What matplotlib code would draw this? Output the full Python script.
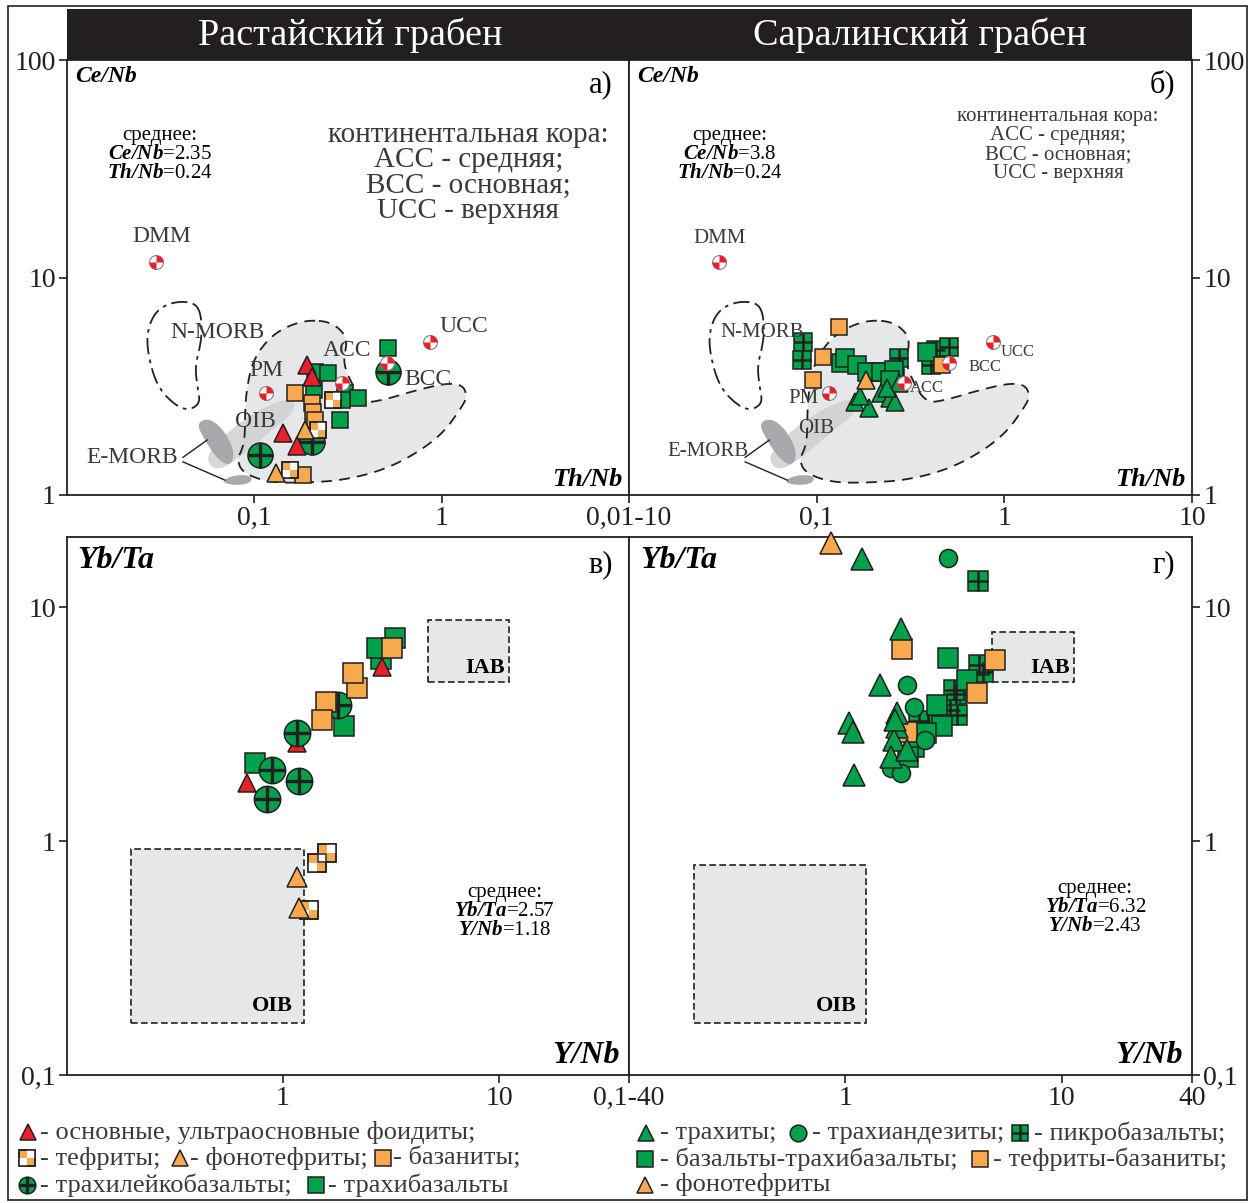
import numpy as np
import matplotlib.pyplot as plt
from matplotlib.path import Path
from matplotlib.patches import Polygon, Rectangle
from matplotlib.ticker import NullLocator

plt.rcParams['font.family'] = ['Liberation Serif', 'DejaVu Serif']
plt.rcParams['mathtext.fontset'] = 'custom'
plt.rcParams['mathtext.rm'] = 'Liberation Serif'
plt.rcParams['mathtext.it'] = 'Liberation Serif:italic'
plt.rcParams['mathtext.bf'] = 'Liberation Serif:bold'
plt.rcParams['mathtext.bfit'] = 'Liberation Serif:bold:italic'

RED = '#e8202a'
ORANGE = '#f8a84d'
GREEN = '#00a14b'
INK = '#231f20'
FIELD = '#e6e7e8'
OIBGRAY = '#cfd0d2'
EMORB = '#a7a9ac'

# reference reservoirs, Th/Nb vs Ce/Nb
ref_names = ['DMM', 'PM', 'ACC', 'BCC', 'UCC']
ref_thnb = [0.030, 0.116, 0.293, 0.509, 0.867]
ref_cenb = [11.8, 2.94, 3.28, 4.04, 5.05]

# fields on the Th/Nb - Ce/Nb plot
nmorb_thnb = [0.0465, 0.0513, 0.0526, 0.0513, 0.0482, 0.0500, 0.0513, 0.0454,
              0.0387, 0.0302, 0.0267, 0.0271, 0.0302, 0.0368]
nmorb_cenb = [7.72, 7.09, 5.74, 4.79, 3.88, 3.04, 2.65, 2.46, 2.54, 3.14, 4.64,
              5.92, 7.09, 7.72]
field_thnb = [0.198, 0.254, 0.298, 0.313, 0.298, 0.317, 0.380, 0.487, 0.739, 1.07,
              1.30, 1.37, 1.25, 1.02, 0.739, 0.487, 0.298, 0.191, 0.121, 0.0871,
              0.0808, 0.0871, 0.0892, 0.0892, 0.0914, 0.0984, 0.121, 0.155]
field_cenb = [6.38, 6.24, 5.62, 5.00, 4.18, 3.49, 2.65, 2.73, 3.04, 3.27, 3.20, 2.82,
              2.46, 1.93, 1.56, 1.30, 1.17, 1.14, 1.14, 1.26, 1.45, 1.66, 1.93, 2.46,
              3.14, 4.18, 5.33, 6.05]
oib_thnb = [0.0602, 0.0546, 0.0789, 0.121, 0.159, 0.168, 0.116, 0.0742]
oib_cenb = [1.30, 1.53, 2.10, 2.62, 2.78, 2.46, 1.89, 1.37]
emorb1_thnb = [0.0490, 0.0580, 0.0700, 0.0790, 0.0740, 0.0640, 0.0540]
emorb1_cenb = [2.15, 2.26, 1.95, 1.55, 1.36, 1.45, 1.80]
emorb2_thnb = [0.0672, 0.0742, 0.0892, 0.0984, 0.0926, 0.0760]
emorb2_cenb = [1.15, 1.22, 1.24, 1.20, 1.12, 1.11]
emorb_lead_thnb = [[0.0416, 0.0560], [0.0416, 0.0698]]
emorb_lead_cenb = [[1.49, 1.79], [1.42, 1.17]]

# а) Растайский грабен: Th/Nb, Ce/Nb
a_foid_thnb = [0.190, 0.204, 0.142, 0.168]
a_foid_cenb = [3.96, 3.50, 1.92, 1.68]
a_teph_thnb = [0.264, 0.220, 0.155]
a_teph_cenb = [2.73, 1.99, 1.30]
a_phon_thnb = [0.187, 0.130]
a_phon_cenb = [1.99, 1.26]
a_basn_thnb = [0.165, 0.202, 0.206, 0.211, 0.183]
a_basn_cenb = [2.94, 2.64, 2.42, 2.21, 1.24]
a_tleu_thnb = [0.519, 0.202, 0.107]
a_tleu_cenb = [3.69, 1.76, 1.53]
a_tbas_thnb = [0.519, 0.211, 0.248, 0.209, 0.305, 0.359, 0.287, 0.293]
a_tbas_cenb = [4.73, 3.69, 3.63, 3.04, 2.94, 2.78, 2.21, 2.73]

# б) Саралинский грабен: Th/Nb, Ce/Nb
b_tbsn_thnb = [0.131, 0.108, 0.096, 0.467]
b_tbsn_cenb = [5.94, 4.32, 3.38, 3.96]
b_phon_thnb = [0.184]
b_phon_cenb = [3.38]
b_pikr_thnb = [0.085, 0.084, 0.274, 0.263, 0.430, 0.507, 0.405, 0.210]
b_pikr_cenb = [5.07, 4.18, 4.25, 3.45, 4.64, 4.81, 3.96, 3.69]
b_bas_thnb = [0.134, 0.142, 0.164, 0.186, 0.219, 0.258, 0.247, 0.389]
b_bas_cenb = [4.03, 4.25, 3.96, 3.69, 3.69, 3.76, 3.38, 4.56]
b_trah_thnb = [0.161, 0.190, 0.219, 0.247, 0.263, 0.274, 0.238, 0.170]
b_trah_cenb = [2.69, 2.50, 2.94, 2.78, 2.69, 3.26, 3.09, 2.85]

# в) Растайский грабен: Y/Nb, Yb/Ta
c_foid_ynb = [0.684, 1.165, 2.86]
c_foid_ybta = [1.77, 2.62, 5.58]
c_tleu_ynb = [1.165, 0.887, 1.18, 0.846, 1.80]
c_tleu_ybta = [2.91, 2.02, 1.81, 1.51, 3.82]
c_tbas_ynb = [0.742, 2.85, 2.72, 3.30, 1.92]
c_tbas_ybta = [2.15, 6.00, 6.68, 7.38, 3.11]
c_basn_ynb = [1.59, 1.51, 2.19, 2.10, 3.19]
c_basn_ybta = [3.95, 3.30, 4.51, 5.23, 6.68]
c_teph_ynb = [1.60, 1.44, 1.32]
c_teph_ybta = [0.893, 0.809, 0.508]
c_phon_ynb = [1.16, 1.18]
c_phon_ybta = [0.705, 0.516]

# г) Саралинский грабен: Y/Nb, Yb/Ta
d_trah_ynb = [1.20, 1.80, 1.45, 1.036, 1.085, 1.10, 1.74, 1.74, 1.67, 1.62, 1.93, 1.70]
d_trah_ybta = [16.1, 8.06, 4.66, 3.19, 2.94, 1.92, 3.52, 3.09, 2.71, 2.30, 2.45, 3.30]
d_tand_ynb = [2.98, 1.93, 2.07, 2.33, 1.62, 1.80]
d_tand_ybta = [16.3, 4.66, 3.76, 2.71, 2.05, 1.95]
d_pikr_ynb = [4.12, 4.34, 4.14, 3.23, 3.17, 3.06, 3.29, 2.40, 2.19]
d_pikr_ybta = [13.0, 5.31, 5.67, 4.25, 4.43, 3.64, 3.47, 3.19, 3.27]
d_bas_ynb = [2.99, 3.66, 2.66, 2.81, 2.35, 2.07, 1.95]
d_bas_ybta = [6.09, 4.89, 3.82, 3.11, 2.89, 2.54, 2.30]
d_tbsn_ynb = [1.83, 4.90, 4.07, 1.92]
d_tbsn_ybta = [6.62, 5.96, 4.32, 2.94]
d_phon_ynb = [0.861]
d_phon_ybta = [18.9]

# IAB and OIB boxes: (Y/Nb min, max), (Yb/Ta min, max)
iab_c = ((4.69, 11.1), (4.80, 8.84))
iab_d = ((4.74, 11.4), (4.80, 7.85))
oib_c = ((0.198, 1.25), (0.167, 0.926))
oib_d = ((0.200, 1.25), (0.167, 0.791))


def quad_path(quads):
    verts, codes = [], []
    for sx, sy in quads:
        verts += [(0, 0), (sx, 0), (sx, sy), (0, sy), (0, 0)]
        codes += [Path.MOVETO] + [Path.LINETO] * 3 + [Path.CLOSEPOLY]
    return Path(verts, codes)


def wedge_path(starts):
    verts, codes = [], []
    for a0 in starts:
        t = np.radians(np.linspace(a0, a0 + 90, 16))
        pts = [(0, 0)] + list(zip(np.cos(t), np.sin(t))) + [(0, 0)]
        verts += pts
        codes += [Path.MOVETO] + [Path.LINETO] * (len(pts) - 2) + [Path.CLOSEPOLY]
    return Path(verts, codes)


CHECK = quad_path([(1, 1), (-1, -1)])
WEDGE = wedge_path([0, 180])


def marks(ax, x, y, kind, ms, z=3):
    kw = dict(ls='none', ms=ms, mec=INK, mew=1.1, clip_on=False, zorder=z)
    if kind == 'foid':
        ax.plot(x, y, marker='^', mfc=RED, **kw)
    elif kind == 'phon':
        ax.plot(x, y, marker='^', mfc=ORANGE, **kw)
    elif kind == 'trah':
        ax.plot(x, y, marker='^', mfc=GREEN, **kw)
    elif kind == 'basn':
        ax.plot(x, y, marker='s', mfc=ORANGE, **kw)
    elif kind == 'bas':
        ax.plot(x, y, marker='s', mfc=GREEN, **kw)
    elif kind == 'tand':
        ax.plot(x, y, marker='o', mfc=GREEN, **kw)
    elif kind == 'teph':
        ax.plot(x, y, marker='s', mfc=ORANGE, **kw)
        ax.plot(x, y, ls='none', marker=CHECK, ms=ms, mfc='white', mec='none',
                mew=0, clip_on=False, zorder=z)
        ax.plot(x, y, marker='s', mfc='none', **kw)
    elif kind == 'tleu':
        ax.plot(x, y, marker='o', mfc=GREEN, **kw)
        ax.plot(x, y, ls='none', marker='+', ms=ms, mec=INK, mew=2.4,
                clip_on=False, zorder=z)
    elif kind == 'pikr':
        ax.plot(x, y, marker='s', mfc=GREEN, **kw)
        ax.plot(x, y, ls='none', marker='+', ms=ms, mec=INK, mew=1.8,
                clip_on=False, zorder=z)
    elif kind == 'ref':
        ax.plot(x, y, ls='none', marker='o', ms=ms, mfc='white', mec='#808285',
                mew=0.8, clip_on=False, zorder=z)
        ax.plot(x, y, ls='none', marker=WEDGE, ms=ms, mfc=RED, mec='none',
                mew=0, clip_on=False, zorder=z)


def smooth(xs, ys, n=3):
    p = np.log10(np.column_stack([xs, ys]))
    for _ in range(n):
        q = np.roll(p, -1, axis=0)
        p = np.column_stack([0.75 * p + 0.25 * q, 0.25 * p + 0.75 * q]).reshape(-1, 2)
    return 10 ** p


def setup(ax, xlim, ylim, xticks, xlabels, yticks, ylabels, right=False):
    ax.set_xscale('log')
    ax.set_yscale('log')
    ax.set_xlim(xlim)
    ax.set_ylim(ylim)
    ax.xaxis.set_minor_locator(NullLocator())
    ax.yaxis.set_minor_locator(NullLocator())
    ax.set_xticks(xticks, xlabels)
    ax.set_yticks(yticks, ylabels)
    if right:
        ax.yaxis.tick_right()
    for s in ax.spines.values():
        s.set_linewidth(1.3)
        s.set_color(INK)
    ax.tick_params(direction='out', length=6, width=1.2, labelsize=20, pad=2,
                   colors=INK)


def draw_fields(ax):
    fx = smooth(field_thnb, field_cenb)
    ax.add_patch(Polygon(fx, closed=True, fc=FIELD, ec='none', zorder=1))
    ax.add_patch(Polygon(smooth(oib_thnb, oib_cenb), closed=True, fc=OIBGRAY,
                         ec='none', alpha=0.85, zorder=1.2))
    ax.add_patch(Polygon(smooth(emorb1_thnb, emorb1_cenb), closed=True, fc=EMORB,
                         ec='none', zorder=1.3))
    ax.add_patch(Polygon(smooth(emorb2_thnb, emorb2_cenb), closed=True, fc=EMORB,
                         ec='none', zorder=1.3))
    ax.add_patch(Polygon(fx, closed=True, fc='none', ec=INK, lw=1.3,
                         ls=(0, (6, 4)), zorder=1.5))
    ax.add_patch(Polygon(smooth(nmorb_thnb, nmorb_cenb), closed=True, fc='none',
                         ec=INK, lw=1.3, ls=(0, (9, 3, 2, 3)), zorder=1.5))
    for lx, ly in zip(emorb_lead_thnb, emorb_lead_cenb):
        ax.plot(lx, ly, color=INK, lw=1.0, zorder=1.5)


def draw_box(ax, box, label, off):
    (x0, x1), (y0, y1) = box
    ax.add_patch(Rectangle((x0, y0), x1 - x0, y1 - y0, fc=FIELD, ec=INK, lw=1.2,
                           ls=(0, (4, 2)), zorder=1))
    ax.annotate(label, (x1, y0), xytext=off, textcoords='offset points',
                ha='right', va='bottom', fontsize=16, fontweight='bold', zorder=1.2)


fig = plt.figure(figsize=(12.56, 12.03), dpi=100)

# page layer in pixel units: frame, header band, legend
pg = fig.add_axes([0, 0, 1, 1])
pg.set_xlim(0, 1256)
pg.set_ylim(1203, 0)
pg.axis('off')
pg.add_patch(Rectangle((8, 6), 1239, 1194, fill=False, ec=INK, lw=1.2))
pg.add_patch(Rectangle((67, 9), 1125, 51, fc=INK, ec='none'))
pg.text(350, 35, 'Растайский грабен', color='white', fontsize=27.5,
        ha='center', va='center')
pg.text(920, 35, 'Саралинский грабен', color='white', fontsize=27.5,
        ha='center', va='center')

W, H = 1256, 1203
def rect(x0, y0, x1, y1):
    return [x0 / W, 1 - y1 / H, (x1 - x0) / W, (y1 - y0) / H]

axa = fig.add_axes(rect(67, 60, 629, 495))
axb = fig.add_axes(rect(629, 60, 1192, 495))
axc = fig.add_axes(rect(67, 537, 629, 1075))
axd = fig.add_axes(rect(629, 537, 1192, 1075))

setup(axa, (0.01, 10), (1, 100), [0.1, 1, 10], ['0,1', '1', '0,01-10'],
      [1, 10, 100], ['1', '10', '100'])
setup(axb, (0.01, 10), (1, 100), [0.1, 1, 10], ['0,1', '1', '10'],
      [1, 10, 100], ['1', '10', '100'], right=True)
setup(axc, (0.1, 40), (0.1, 20), [1, 10, 40], ['1', '10', '0,1-40'],
      [0.1, 1, 10], ['0,1', '1', '10'])
setup(axd, (0.1, 40), (0.1, 20), [1, 10, 40], ['1', '10', '40'],
      [0.1, 1, 10], ['0,1', '1', '10'], right=True)

# --- а) ---
draw_fields(axa)
marks(axa, a_tbas_thnb, a_tbas_cenb, 'bas', 12)
marks(axa, a_tleu_thnb, a_tleu_cenb, 'tleu', 18)
marks(axa, a_basn_thnb, a_basn_cenb, 'basn', 12)
marks(axa, a_teph_thnb, a_teph_cenb, 'teph', 12)
marks(axa, a_phon_thnb, a_phon_cenb, 'phon', 13)
marks(axa, a_foid_thnb, a_foid_cenb, 'foid', 13)
marks(axa, ref_thnb, ref_cenb, 'ref', 10, z=4)
a_offsets = [(4, 18), (0, 16), (4, 23), (30, -12), (24, 11)]
for n, x, y, off in zip(ref_names, ref_thnb, ref_cenb, a_offsets):
    axa.annotate(n, (x, y), xytext=off, textcoords='offset points',
                 ha='center', va='center', fontsize=17, color='#3a3a3a', zorder=5)
axa.text(0.0632, 5.56, 'N-MORB', fontsize=17, ha='center', va='center', color='#3a3a3a')
axa.text(0.1009, 2.17, 'OIB', fontsize=17, ha='center', va='center', color='#3a3a3a')
axa.text(0.0222, 1.49, 'E-MORB', fontsize=17, ha='center', va='center', color='#3a3a3a')
axa.text(0.165, 0.782, 'среднее:\n$\\mathbfit{Ce/Nb}$=2.35\n$\\mathbfit{Th/Nb}$=0.24',
         transform=axa.transAxes, fontsize=15, ha='center', va='center',
         linespacing=1.0)
axa.text(0.714, 0.74, 'континентальная кора:\nACC - средняя;\nBCC - основная;\nUCC - верхняя',
         transform=axa.transAxes, fontsize=21, ha='center', va='center',
         linespacing=0.97, color='#3a3a3a')
axa.text(0.014, 0.961, 'Ce/Nb', transform=axa.transAxes, fontsize=17,
         style='italic', fontweight='bold', ha='left', va='center')
axa.text(0.9715, 0.943, 'а)', transform=axa.transAxes, fontsize=22,
         ha='right', va='center')
axa.text(0.989, 0.0345, 'Th/Nb', transform=axa.transAxes, fontsize=19,
         style='italic', fontweight='bold', ha='right', va='center')

# --- б) ---
draw_fields(axb)
axb.tick_params(axis='y', left=False)
marks(axb, b_pikr_thnb, b_pikr_cenb, 'pikr', 13)
marks(axb, b_bas_thnb, b_bas_cenb, 'bas', 13)
marks(axb, b_tbsn_thnb, b_tbsn_cenb, 'basn', 12)
marks(axb, b_trah_thnb, b_trah_cenb, 'trah', 13)
marks(axb, b_phon_thnb, b_phon_cenb, 'phon', 13)
marks(axb, ref_thnb, ref_cenb, 'ref', 10, z=4)
b_offsets = [(1, 17), (-18, -4), (16, -4), (26, -3), (18, -7)]
b_sizes = [15, 15, 12, 12, 12]
for n, x, y, off, fs in zip(ref_names, ref_thnb, ref_cenb, b_offsets, b_sizes):
    axb.annotate(n, (x, y), xytext=off, textcoords='offset points',
                 ha='center', va='center', fontsize=fs, color='#3a3a3a', zorder=5)
axb.text(0.0513, 5.56, 'N-MORB', fontsize=15, ha='center', va='center', color='#3a3a3a')
axb.text(0.0996, 2.02, 'OIB', fontsize=15, ha='center', va='center', color='#3a3a3a')
axb.text(0.0264, 1.58, 'E-MORB', fontsize=15, ha='center', va='center', color='#3a3a3a')
axb.text(0.179, 0.782, 'среднее:\n$\\mathbfit{Ce/Nb}$=3.8\n$\\mathbfit{Th/Nb}$=0.24',
         transform=axb.transAxes, fontsize=15, ha='center', va='center',
         linespacing=1.0)
axb.text(0.762, 0.805, 'континентальная кора:\nACC - средняя;\nBCC - основная;\nUCC - верхняя',
         transform=axb.transAxes, fontsize=15, ha='center', va='center',
         linespacing=1.0, color='#3a3a3a')
axb.text(0.014, 0.961, 'Ce/Nb', transform=axb.transAxes, fontsize=17,
         style='italic', fontweight='bold', ha='left', va='center')
axb.text(0.970, 0.943, 'б)', transform=axb.transAxes, fontsize=22,
         ha='right', va='center')
axb.text(0.988, 0.0345, 'Th/Nb', transform=axb.transAxes, fontsize=19,
         style='italic', fontweight='bold', ha='right', va='center')

# --- в) ---
draw_box(axc, iab_c, 'IAB', (-3, 3))
draw_box(axc, oib_c, 'OIB', (-8, 5))
marks(axc, c_tbas_ynb, c_tbas_ybta, 'bas', 14.5)
marks(axc, c_foid_ynb, c_foid_ybta, 'foid', 13.5)
marks(axc, c_tleu_ynb, c_tleu_ybta, 'tleu', 19)
marks(axc, c_basn_ynb, c_basn_ybta, 'basn', 14.5)
marks(axc, c_teph_ynb, c_teph_ybta, 'teph', 13)
marks(axc, c_phon_ynb, c_phon_ybta, 'phon', 14)
axc.text(0.779, 0.303, 'среднее:\n$\\mathbfit{Yb/Ta}$=2.57\n$\\mathbfit{Y/Nb}$=1.18',
         transform=axc.transAxes, fontsize=15, ha='center', va='center',
         linespacing=1.0)
axc.text(0.018, 0.957, 'Yb/Ta', transform=axc.transAxes, fontsize=23,
         style='italic', fontweight='bold', ha='left', va='center')
axc.text(0.9715, 0.948, 'в)', transform=axc.transAxes, fontsize=22,
         ha='right', va='center')
axc.text(0.984, 0.037, 'Y/Nb', transform=axc.transAxes, fontsize=23,
         style='italic', fontweight='bold', ha='right', va='center')

# --- г) ---
draw_box(axd, iab_d, 'IAB', (-3, 3))
draw_box(axd, oib_d, 'OIB', (-7, 5))
axd.tick_params(axis='y', left=False)
marks(axd, d_pikr_ynb, d_pikr_ybta, 'pikr', 15)
marks(axd, d_bas_ynb, d_bas_ybta, 'bas', 15)
marks(axd, d_tbsn_ynb, d_tbsn_ybta, 'basn', 15)
marks(axd, d_tand_ynb, d_tand_ybta, 'tand', 13)
marks(axd, d_trah_ynb, d_trah_ybta, 'trah', 16)
marks(axd, d_phon_ynb, d_phon_ybta, 'phon', 16)
axd.text(0.828, 0.312, 'среднее:\n$\\mathbfit{Yb/Ta}$=6.32\n$\\mathbfit{Y/Nb}$=2.43',
         transform=axd.transAxes, fontsize=15, ha='center', va='center',
         linespacing=1.0)
axd.text(0.0195, 0.957, 'Yb/Ta', transform=axd.transAxes, fontsize=23,
         style='italic', fontweight='bold', ha='left', va='center')
axd.text(0.970, 0.948, 'г)', transform=axd.transAxes, fontsize=22,
         ha='right', va='center')
axd.text(0.984, 0.037, 'Y/Nb', transform=axd.transAxes, fontsize=23,
         style='italic', fontweight='bold', ha='right', va='center')

# legend, drawn on the page layer
legend_rows = [
    (1132, [('foid', 28, 40, '- основные, ультраосновные фоидиты;')]),
    (1158, [('teph', 27, 40, '- тефриты;'), ('phon', 180, 190, '- фонотефриты;'),
            ('basn', 383, 393, '- базаниты;')]),
    (1185, [('tleu', 27, 40, '- трахилейкобазальты;'), ('bas', 316, 328, '- трахибазальты')]),
    (1133, [('trah', 646, 660, '- трахиты;'), ('tand', 798, 812, '- трахиандезиты;'),
            ('pikr', 1020, 1034, '- пикробазальты;')]),
    (1159, [('bas', 645, 660, '- базальты-трахибазальты;'),
            ('basn', 980, 993, '- тефриты-базаниты;')]),
    (1185, [('phon', 645, 660, '- фонотефриты')]),
]
for y, items in legend_rows:
    for kind, mx, tx, label in items:
        marks(pg, [mx], [y], kind, 12)
        pg.text(tx, y, label, fontsize=19, ha='left', va='center', color='#3a3a3a')

fig.savefig('out.png', dpi=100)
